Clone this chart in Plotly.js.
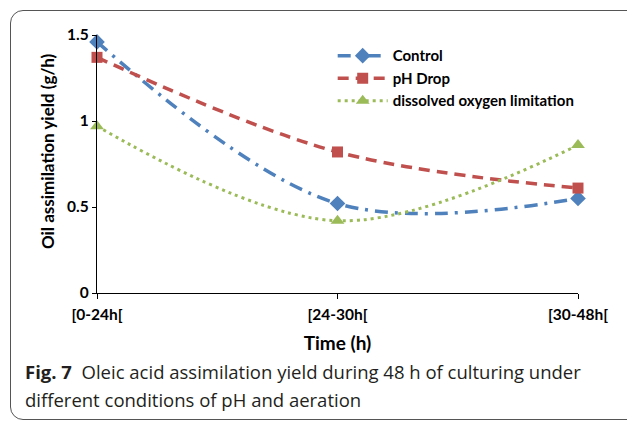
<!DOCTYPE html>
<html>
<head>
<meta charset="utf-8">
<script src="https://cdn.plot.ly/plotly-3.0.1.min.js"></script>
<style>
  html, body { margin: 0; padding: 0; background: #fff; }
  #wrap { position: relative; width: 627px; height: 421px; overflow: hidden; }
  #chart { position: absolute; left: 0; top: 0; width: 627px; height: 421px; }
  #frame { position: absolute; left: 10px; top: 10px; width: 700px; height: 408px;
           border: 1.5px solid #555; border-radius: 13px; pointer-events: none; z-index: 5; }
</style>
</head>
<body>
<div id="wrap">
  <div id="chart"></div>
  <div id="frame"></div>
</div>
<script>
const categories = ["[0-24h[", "[24-30h[", "[30-48h["];
const controlValues = [1.46, 0.52, 0.55];
const phDropValues = [1.37, 0.82, 0.61];
const oxygenValues = [0.97, 0.42, 0.86];
const seriesNames = ["Control", "pH Drop", "dissolved oxygen limitation"];
const yTicks = [0, 0.5, 1, 1.5];
const yTickText = ["0", "0.5", "1", "1.5"];

const xIdx = categories.map((c, i) => i);
const chartFont = "Lato, 'Liberation Sans', sans-serif";
const captionFont = "'Open Sans', 'Noto Sans', sans-serif";

const traces = [
  {
    x: xIdx, y: controlValues, name: seriesNames[0], type: "scatter", mode: "lines+markers",
    line: { color: "#4F81BD", width: 3.5, dash: "13px,7px,3px,7px", shape: "spline", smoothing: 1 },
    marker: { symbol: "diamond", size: 12, color: "#4F81BD" }, cliponaxis: false
  },
  {
    x: xIdx, y: phDropValues, name: seriesNames[1], type: "scatter", mode: "lines+markers",
    line: { color: "#C0504D", width: 3.5, dash: "11px,7px", shape: "spline", smoothing: 1 },
    marker: { symbol: "square", size: 11, color: "#C0504D" }, cliponaxis: false
  },
  {
    x: xIdx, y: oxygenValues, name: seriesNames[2], type: "scatter", mode: "lines+markers",
    line: { color: "#9BBB59", width: 3, dash: "3px,4px", shape: "spline", smoothing: 1 },
    marker: { symbol: "triangle-up", size: 12, color: "#9BBB59" }, cliponaxis: false
  }
];

const layout = {
  width: 627, height: 421,
  margin: { l: 97, r: 49, t: 35, b: 128 },
  paper_bgcolor: "#ffffff", plot_bgcolor: "#ffffff",
  font: { family: chartFont, color: "#000", size: 15, weight: "bold" },
  showlegend: true,
  legend: {
    x: 0.49, y: 0.983, xanchor: "left", yanchor: "top",
    font: { family: chartFont, size: 15, color: "#000", weight: "bold" },
    bgcolor: "rgba(0,0,0,0)", itemwidth: 50, tracegroupgap: 0
  },
  xaxis: {
    range: [0, 2], tickvals: xIdx, ticktext: categories,
    showgrid: false, zeroline: false, showline: true, linecolor: "#000", linewidth: 1.2,
    ticks: "outside", ticklen: 5, tickcolor: "#000", tickwidth: 1, ticklabelstandoff: 2,
    tickfont: { family: chartFont, size: 15.5, weight: "bold", color: "#000" },
    title: { text: "Time (h)", standoff: 15, font: { family: chartFont, size: 19, weight: "bold", color: "#000" } },
    fixedrange: true
  },
  yaxis: {
    range: [0, 1.5], tickvals: yTicks, ticktext: yTickText,
    showgrid: false, zeroline: false, showline: true, linecolor: "#000", linewidth: 1.2,
    ticks: "outside", ticklen: 4, tickcolor: "#000", tickwidth: 1,
    tickfont: { family: chartFont, size: 15.5, weight: "bold", color: "#000" },
    fixedrange: true
  },
  annotations: [
    {
      xref: "paper", yref: "paper", x: -0.104, y: 0.55, xanchor: "center", yanchor: "middle",
      showarrow: false, textangle: -90,
      text: "Oil assimilation yield (g/h)",
      font: { family: chartFont, size: 17, color: "#000", weight: "bold" }
    },
    {
      xref: "paper", yref: "paper", x: -0.154, y: -0.306, xanchor: "left", yanchor: "middle",
      showarrow: false, align: "left",
      text: "<b>Fig. 7</b>  Oleic acid assimilation yield during 48 h of culturing under",
      font: { family: captionFont, size: 18.5, color: "#231f20", weight: "normal" }
    },
    {
      xref: "paper", yref: "paper", x: -0.154, y: -0.411, xanchor: "left", yanchor: "middle",
      showarrow: false, align: "left",
      text: "different conditions of pH and aeration",
      font: { family: captionFont, size: 18.5, color: "#231f20", weight: "normal" }
    }
  ]
};

Plotly.newPlot("chart", traces, layout, { displayModeBar: false, staticPlot: true });
</script>
</body>
</html>
